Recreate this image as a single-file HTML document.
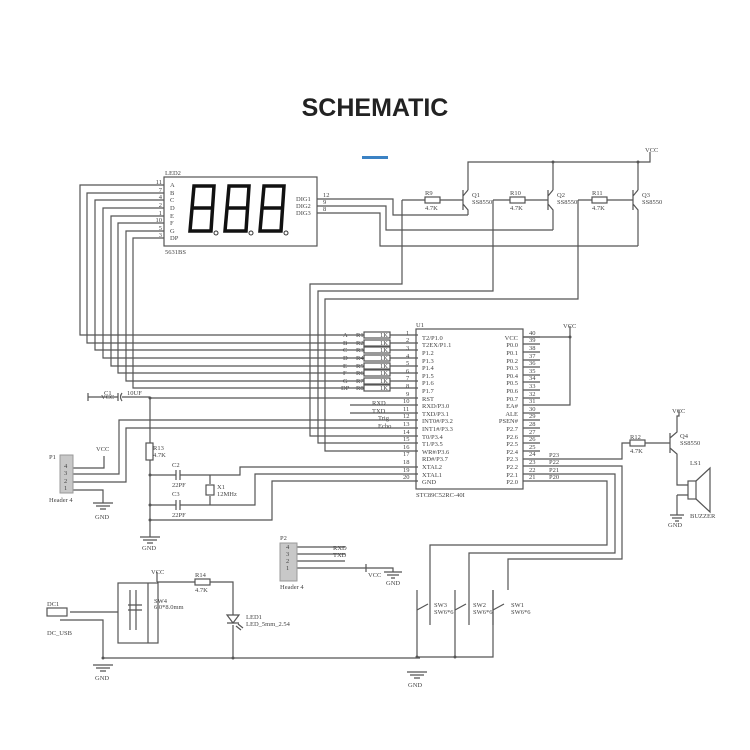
<!DOCTYPE html>
<html><head><meta charset="utf-8"><style>
html,body{margin:0;padding:0;background:#fff;}
svg{display:block}
text{font-family:"Liberation Serif",serif;font-size:6.5px;fill:#444}
.t{font-family:"Liberation Sans",sans-serif;font-weight:bold;font-size:25px;fill:#222}
</style></head><body>
<svg width="750" height="750" viewBox="0 0 750 750" xmlns="http://www.w3.org/2000/svg">
<text x="375" y="116" text-anchor="middle" class="t">SCHEMATIC</text>
<rect x="362" y="156" width="26" height="3" fill="#3b82c4"/>
<g stroke="#555" stroke-width="1.2" fill="none">
<rect x="164" y="177" width="153" height="69"/>
<path d="M164 185H80V335H342"/>
<path d="M164 193H87V343H342"/>
<path d="M164 200H95V350H342"/>
<path d="M164 208H103V358H342"/>
<path d="M164 216H111V366H342"/>
<path d="M164 223H118V373H342"/>
<path d="M164 231H126V381H342"/>
<path d="M164 238H133V388H342"/>
<path d="M317 199H393V215H468"/>
<path d="M317 206H386V230H553"/>
<path d="M317 213H380V246H638"/>
<path d="M468 190V162H650V152 M553 190V162 M638 190V162"/>
<path d="M463 190V210 M463 196L468 190 M463 204L468 210V215"/>
<path d="M548 190V210 M548 196L553 190 M548 204L553 210V230"/>
<path d="M633 190V210 M633 196L638 190 M633 204L638 210V246"/>
<path d="M402 200H425 M440 200H463 M493 200H510 M525 200H548 M578 200H592 M607 200H633"/>
<rect x="425" y="197" width="15" height="6"/><rect x="510" y="197" width="15" height="6"/><rect x="592" y="197" width="15" height="6"/>
<path d="M402 200V284H310V436H418"/>
<path d="M493 200V291H318V443H418"/>
<path d="M578 200V299H325V451H418"/>
<path d="M342 335H418 M342 343H418 M342 350H418 M342 358H418 M342 366H418 M342 373H418 M342 381H418 M342 388H418"/>
<g fill="#fff"><rect x="364" y="332" width="26" height="6"/><rect x="364" y="340" width="26" height="6"/><rect x="364" y="347" width="26" height="6"/><rect x="364" y="355" width="26" height="6"/><rect x="364" y="363" width="26" height="6"/><rect x="364" y="370" width="26" height="6"/><rect x="364" y="378" width="26" height="6"/><rect x="364" y="385" width="26" height="6"/></g>
<rect x="416" y="329" width="107" height="160"/>
<path d="M523 337H570V405H540 M570 337V326"/>
<path d="M523 337H540M523 344H540M523 352H540M523 360H540M523 367H540M523 375H540M523 382H540M523 390H540M523 398H540M523 405H540M523 413H540M523 420H540M523 428H540M523 436H540M523 443H540M523 451H540"/>
<path d="M523 459H622V443H630 M645 443H670"/>
<rect x="630" y="440" width="15" height="6"/>
<path d="M523 466H622V559H508V590"/>
<path d="M523 474H615V553H469V590"/>
<path d="M523 481H607V545H430V590"/>
<path d="M350 405H418 M350 413H418 M340 420H418 M345 428H418 M418 398H150"/>
<path d="M670 433V453 M670 438L677 432V416H679V410 M670 448L677 454V485H688 M677 495H688 M677 495V515"/>
<rect x="688" y="481" width="8" height="18"/>
<path d="M696 481L710 468V512L696 499"/>
<path d="M670 515H684 M672 518H682 M675 521H679"/>
<path d="M88 393V401 M88 397H118 M118 393V401 M122 393Q119 397 122 401 M122 397H150"/>
<path d="M150 398V443 M150 460V520V537"/>
<rect x="146" y="443" width="7" height="17"/>
<path d="M150 475H176 M176 470V480 M180 470V480 M180 475H240V467H418"/>
<path d="M150 505H176 M176 500V510 M180 500V510 M180 505H255V474H418"/>
<path d="M150 520H272V481H418"/>
<path d="M210 475V484 M210 496V505"/><rect x="206" y="485" width="8" height="10"/>
<path d="M140 537H160 M143 540H157 M147 543H153"/>
<path d="M73 468H104V456 M73 474H119V420H340 M73 482H126V428H345 M73 490H103V503 M93 503H113 M96 506H110 M100 509H106"/>
<path d="M297 547H345 M297 554H345 M297 561H345 M297 568H366 M366 564V572 M366 568H393V572 M384 572H402 M387 575H399 M391 578H395"/>
<path d="M70 612H118 M60 620H103V658H420 M93 665H113 M96 668H110 M100 671H106"/>
<rect x="118" y="583" width="40" height="60"/>
<path d="M148 583V643 M157 582H195 M210 582H233V615 M233 625V658 M157 582V572 M130 590V630 M136 590V630 M128 605H142 M128 610H142"/>
<rect x="195" y="579" width="15" height="6"/>
<path d="M227 615H239L233 623Z M227 623H239 M236 626L241 630 M238 624L243 628"/>
<rect x="47" y="608" width="20" height="8"/>
<path d="M417 590V658 M430 590V625 M455 590V658 M469 590V625 M493 590V625"/>
<path d="M417 610L428 604 M455 610L466 604 M493 610L504 604"/>
<path d="M417 657H493V590 M407 672H427 M410 675H424 M414 678H420"/>
</g>
<g fill="#555"><circle cx="553" cy="162" r="1.5"/><circle cx="638" cy="162" r="1.5"/><circle cx="570" cy="337" r="1.5"/><circle cx="150" cy="398" r="1.5"/><circle cx="150" cy="475" r="1.5"/><circle cx="150" cy="505" r="1.5"/><circle cx="150" cy="520" r="1.5"/><circle cx="417" cy="657" r="1.5"/><circle cx="455" cy="657" r="1.5"/><circle cx="103" cy="658" r="1.5"/><circle cx="233" cy="658" r="1.5"/></g>
<rect x="60" y="455" width="13" height="38" fill="#c8c8c8" stroke="#999"/>
<rect x="280" y="543" width="17" height="38" fill="#c8c8c8" stroke="#999"/>
<g stroke="#111" stroke-width="3.5" fill="none">
<path d="M194 186H214L211 231H190Z M192 208H212"/>
<path d="M229 186H249L246 231H225Z M227 208H247"/>
<path d="M264 186H284L281 231H260Z M262 208H282"/>
</g>
<g fill="#fff" stroke="#333"><circle cx="216" cy="233" r="2"/><circle cx="251" cy="233" r="2"/><circle cx="286" cy="233" r="2"/></g>
<text x="165" y="175">LED2</text><text x="165" y="254">5631BS</text>
<text x="170" y="187">A</text><text x="170" y="195">B</text><text x="170" y="202">C</text><text x="170" y="210">D</text><text x="170" y="218">E</text><text x="170" y="225">F</text><text x="170" y="233">G</text><text x="170" y="240">DP</text>
<g font-size="5.5" text-anchor="end"><text x="162" y="184">11</text><text x="162" y="192">7</text><text x="162" y="199">4</text><text x="162" y="207">2</text><text x="162" y="215">1</text><text x="162" y="222">10</text><text x="162" y="230">5</text><text x="162" y="237">3</text></g>
<text x="296" y="201">DIG1</text><text x="296" y="208">DIG2</text><text x="296" y="215">DIG3</text>
<text x="323" y="197">12</text><text x="323" y="204">9</text><text x="323" y="211">8</text>
<text x="425" y="195">R9</text><text x="425" y="210">4.7K</text><text x="510" y="195">R10</text><text x="510" y="210">4.7K</text><text x="592" y="195">R11</text><text x="592" y="210">4.7K</text>
<text x="472" y="197">Q1</text><text x="472" y="204">SS8550</text><text x="557" y="197">Q2</text><text x="557" y="204">SS8550</text><text x="642" y="197">Q3</text><text x="642" y="204">SS8550</text>
<text x="645" y="152">VCC</text><text x="563" y="328">VCC</text><text x="416" y="327">U1</text><text x="416" y="497">STC89C52RC-40I</text>
<text x="343" y="337">A</text><text x="343" y="345">B</text><text x="343" y="352">C</text><text x="343" y="360">D</text><text x="343" y="368">E</text><text x="343" y="375">F</text><text x="343" y="383">G</text><text x="341" y="390">DP</text>
<g font-size="5.5"><text x="356" y="337">R1</text><text x="356" y="345">R2</text><text x="356" y="352">R3</text><text x="356" y="360">R4</text><text x="356" y="368">R5</text><text x="356" y="375">R6</text><text x="356" y="383">R7</text><text x="356" y="390">R8</text>
<text x="380" y="337">1K</text><text x="380" y="345">1K</text><text x="380" y="352">1K</text><text x="380" y="360">1K</text><text x="380" y="368">1K</text><text x="380" y="375">1K</text><text x="380" y="383">1K</text><text x="380" y="390">1K</text></g>
<g font-size="5.5"><text x="406" y="335">1</text><text x="406" y="342">2</text><text x="406" y="350">3</text><text x="406" y="358">4</text><text x="406" y="365">5</text><text x="406" y="373">6</text><text x="406" y="380">7</text><text x="406" y="388">8</text><text x="406" y="396">9</text><text x="403" y="403">10</text><text x="403" y="411">11</text><text x="403" y="418">12</text><text x="403" y="426">13</text><text x="403" y="434">14</text><text x="403" y="441">15</text><text x="403" y="449">16</text><text x="403" y="456">17</text><text x="403" y="464">18</text><text x="403" y="472">19</text><text x="403" y="479">20</text>
<text x="529" y="335">40</text><text x="529" y="342">39</text><text x="529" y="350">38</text><text x="529" y="358">37</text><text x="529" y="365">36</text><text x="529" y="373">35</text><text x="529" y="380">34</text><text x="529" y="388">33</text><text x="529" y="396">32</text><text x="529" y="403">31</text><text x="529" y="411">30</text><text x="529" y="418">29</text><text x="529" y="426">28</text><text x="529" y="434">27</text><text x="529" y="441">26</text><text x="529" y="449">25</text><text x="529" y="456">24</text><text x="529" y="464">23</text><text x="529" y="472">22</text><text x="529" y="479">21</text></g>
<g font-size="6"><text x="422" y="340">T2/P1.0</text><text x="422" y="347">T2EX/P1.1</text><text x="422" y="355">P1.2</text><text x="422" y="363">P1.3</text><text x="422" y="370">P1.4</text><text x="422" y="378">P1.5</text><text x="422" y="385">P1.6</text><text x="422" y="393">P1.7</text><text x="422" y="401">RST</text><text x="422" y="408">RXD/P3.0</text><text x="422" y="416">TXD/P3.1</text><text x="422" y="423">INT0#/P3.2</text><text x="422" y="431">INT1#/P3.3</text><text x="422" y="439">T0/P3.4</text><text x="422" y="446">T1/P3.5</text><text x="422" y="454">WR#/P3.6</text><text x="422" y="461">RD#/P3.7</text><text x="422" y="469">XTAL2</text><text x="422" y="477">XTAL1</text><text x="422" y="484">GND</text></g>
<g font-size="6" text-anchor="end"><text x="518" y="340">VCC</text><text x="518" y="347">P0.0</text><text x="518" y="355">P0.1</text><text x="518" y="363">P0.2</text><text x="518" y="370">P0.3</text><text x="518" y="378">P0.4</text><text x="518" y="385">P0.5</text><text x="518" y="393">P0.6</text><text x="518" y="401">P0.7</text><text x="518" y="408">EA#</text><text x="518" y="416">ALE</text><text x="518" y="423">PSEN#</text><text x="518" y="431">P2.7</text><text x="518" y="439">P2.6</text><text x="518" y="446">P2.5</text><text x="518" y="454">P2.4</text><text x="518" y="461">P2.3</text><text x="518" y="469">P2.2</text><text x="518" y="477">P2.1</text><text x="518" y="484">P2.0</text></g>
<text x="372" y="405">RXD</text><text x="372" y="413">TXD</text><text x="378" y="420">Trig</text><text x="378" y="428">Echo</text>
<text x="549" y="457">P23</text><text x="549" y="464">P22</text><text x="549" y="472">P21</text><text x="549" y="479">P20</text>
<text x="630" y="439">R12</text><text x="630" y="453">4.7K</text><text x="680" y="438">Q4</text><text x="680" y="445">SS8550</text><text x="672" y="413">VCC</text><text x="690" y="465">LS1</text><text x="690" y="518">BUZZER</text><text x="668" y="527">GND</text>
<text x="101" y="399">VCC</text><text x="104" y="395">C1</text><text x="127" y="395">10UF</text>
<text x="153" y="450">R13</text><text x="153" y="457">4.7K</text><text x="172" y="467">C2</text><text x="172" y="487">22PF</text><text x="172" y="496">C3</text><text x="172" y="517">22PF</text><text x="217" y="489">X1</text><text x="217" y="496">12MHz</text>
<text x="96" y="451">VCC</text><text x="49" y="459">P1</text><text x="49" y="502">Header 4</text><text x="95" y="519">GND</text><text x="142" y="550">GND</text>
<text x="64" y="468">4</text><text x="64" y="475">3</text><text x="64" y="483">2</text><text x="64" y="490">1</text>
<text x="280" y="540">P2</text><text x="280" y="589">Header 4</text><text x="286" y="549">4</text><text x="286" y="556">3</text><text x="286" y="563">2</text><text x="286" y="570">1</text>
<text x="333" y="550">RXD</text><text x="333" y="557">TXD</text><text x="368" y="577">VCC</text><text x="386" y="585">GND</text>
<text x="47" y="606">DC1</text><text x="47" y="635">DC_USB</text><text x="95" y="680">GND</text><text x="151" y="574">VCC</text><text x="154" y="603">SW4</text><text x="154" y="609">6.0*8.0mm</text>
<text x="195" y="577">R14</text><text x="195" y="592">4.7K</text><text x="246" y="619">LED1</text><text x="246" y="626">LED_5mm_2.54</text>
<text x="434" y="607">SW3</text><text x="434" y="614">SW6*6</text><text x="473" y="607">SW2</text><text x="473" y="614">SW6*6</text><text x="511" y="607">SW1</text><text x="511" y="614">SW6*6</text><text x="408" y="687">GND</text>
</svg>
</body></html>
